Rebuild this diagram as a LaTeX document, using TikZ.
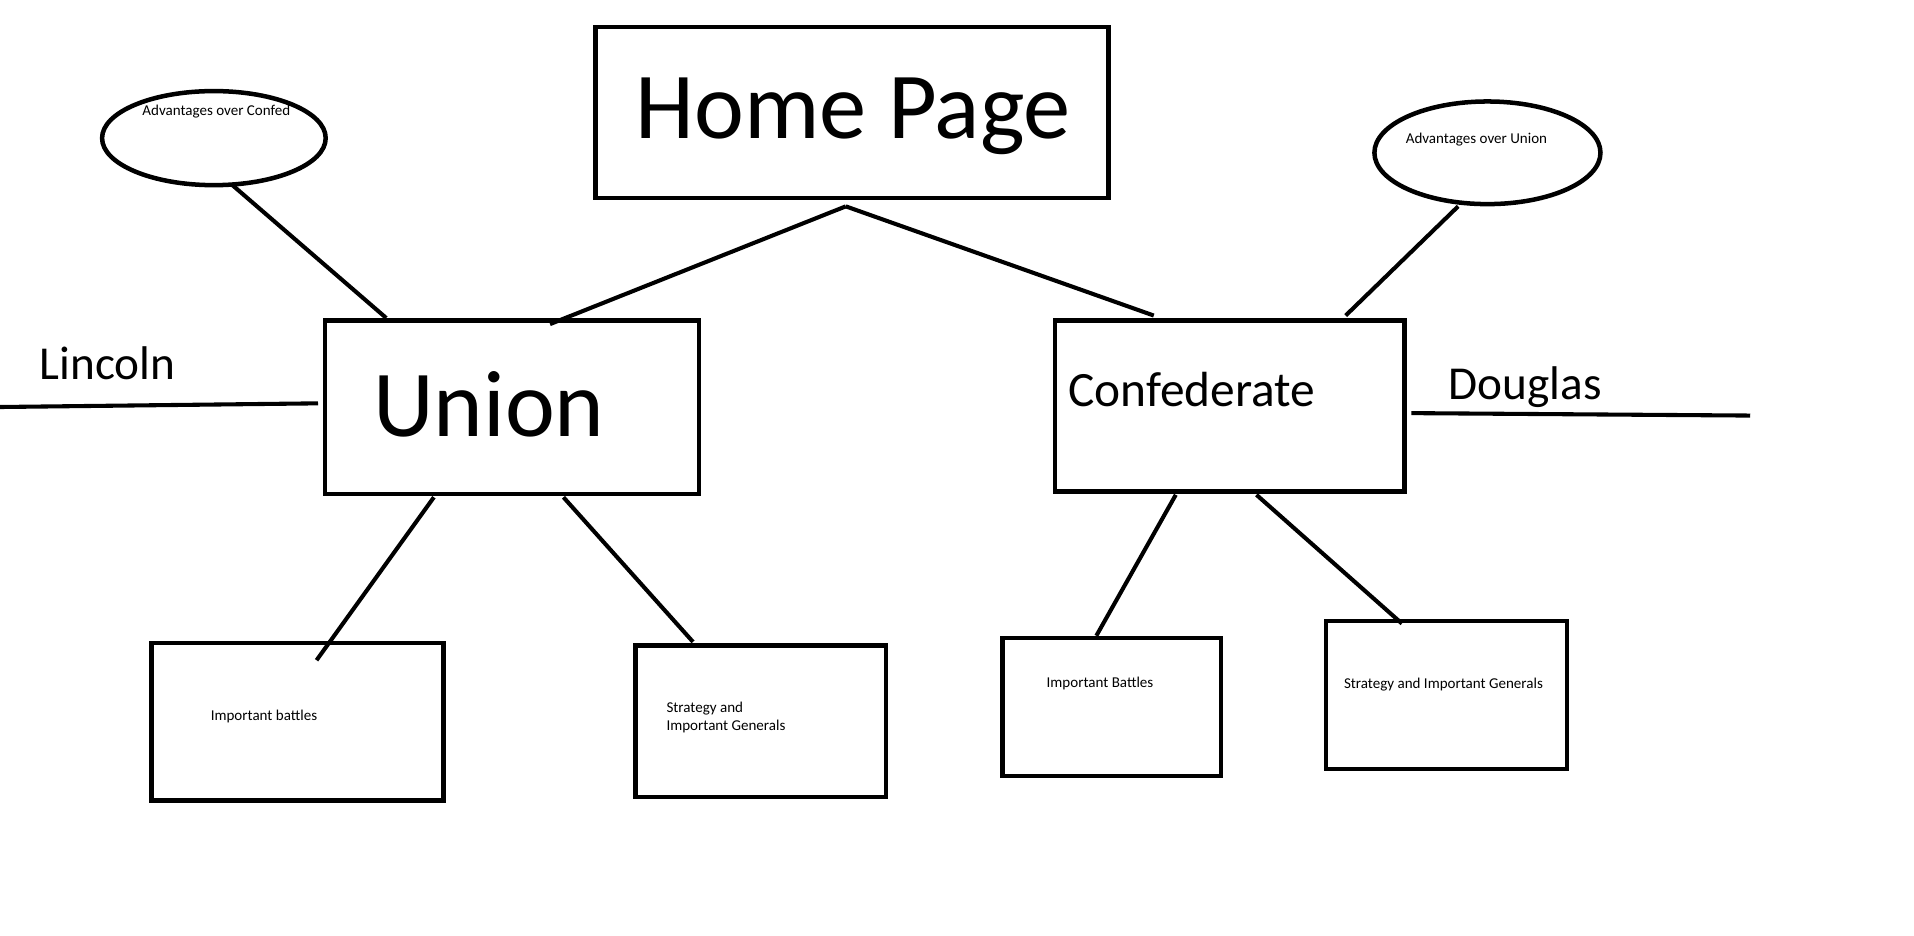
\documentclass[tikz,border=0pt]{standalone}
\usepackage{fontspec}
\setmainfont{Carlito}
\usepackage{tikz}
\usetikzlibrary{shapes.geometric}
\tikzstyle{box}=[rectangle, draw
,line width=2.1pt
,inner sep=0pt
]
\tikzstyle{bubble}=[ellipse, draw
,line width=2.1pt
,inner sep=0pt
]
\tikzstyle{edge} = [draw,line width=1.9pt,-]
\tikzstyle{big label} = [inner sep=0pt, font=\fontsize{44}{50}\selectfont]
\tikzstyle{mid label} = [inner sep=0pt, font=\fontsize{22}{26}\selectfont]
\tikzstyle{small label} = [inner sep=0pt, align=left, font=\fontsize{7}{8.3}\selectfont]

\begin{document}
\begin{tikzpicture}[x=0.02cm,y=-0.02cm]
    \useasboundingbox (0,0) rectangle (1566,765);
    % First we draw the boxes and bubbles
    \foreach \pos/\name/\w/\h in {{(697,92)/home/8.4/2.8}, {(419,333)/union/6.12/2.84}, {(1006,332)/conf/5.72/2.8},
        {(243.5,590.5)/unionbattles/4.78/2.58}, {(622.5,590)/unionstrat/4.1/2.48},
        {(909.5,578.5)/confbattles/3.58/2.26}, {(1183.5,568.5)/confstrat/3.94/2.42}}
        \node[box, minimum width=\w cm, minimum height=\h cm] (\name) at \pos {};
    \foreach \pos/\name/\w/\h in {{(175,113)/unionadv/3.66/1.54}, {(1217,125)/confadv/3.7/1.68}}
        \node[bubble, minimum width=\w cm, minimum height=\h cm] (\name) at \pos {};

    % Then the texts
    \foreach \pos/\name/\text in {{(698,95)/hometext/Home Page}, {(400,331)/uniontext/Union}}
        \node[big label] (\name) at \pos {\text};
    \node[mid label, font=\fontsize{23}{27}\selectfont] (conftext) at (975,319) {Confederate};
    \foreach \pos/\name/\text in {{(88,297)/lincoln/Lincoln}, {(1248,317)/douglas/Douglas}}
        \node[mid label] (\name) at \pos {\text};
    \foreach \pos/\name/\text in {{(177,91)/unionadvtext/Advantages over Confed}, {(1208,114)/confadvtext/Advantages over Union},
        {(216,586)/unionbattlestext/Important battles}, {(900,559)/confbattlestext/Important Battles},
        {(1181,560)/confstrattext/Strategy and Important Generals}}
        \node[small label] (\name) at \pos {\text};
    \node[small label, anchor=west] (unionstrattext) at (545,587) {Strategy and\\Important Generals};

    % Free ends of the name lines
    \coordinate (lincolnend) at (0,333);
    \coordinate (douglasend) at (1432,340);

    % Connect boxes with edges
    \foreach \source/\sa/\sx/\sy/\dest/\da/\dx/\dy in {home/south/-5/5/union/north/31/5, home/south/-5/5/conf/north/-62/-2,
        unionadv/south/15/-2/union/north/-103/0, confadv/south/-24/0/conf/north/95/-2,
        union/south/-64/1/unionbattles/north/15.5/16, union/south/42/1/unionstrat/north/-55.5/-1,
        conf/south/-44/1/confbattles/north/-12.5/0, conf/south/22/1/confstrat/north/-36.5/4,
        lincolnend/center/0/0/union/west/-4/-3, conf/east/4/6/douglasend/center/0/0}
        \path[edge] ([shift={(\sx,\sy)}]\source.\sa) -- ([shift={(\dx,\dy)}]\dest.\da);
\end{tikzpicture}
\end{document}
